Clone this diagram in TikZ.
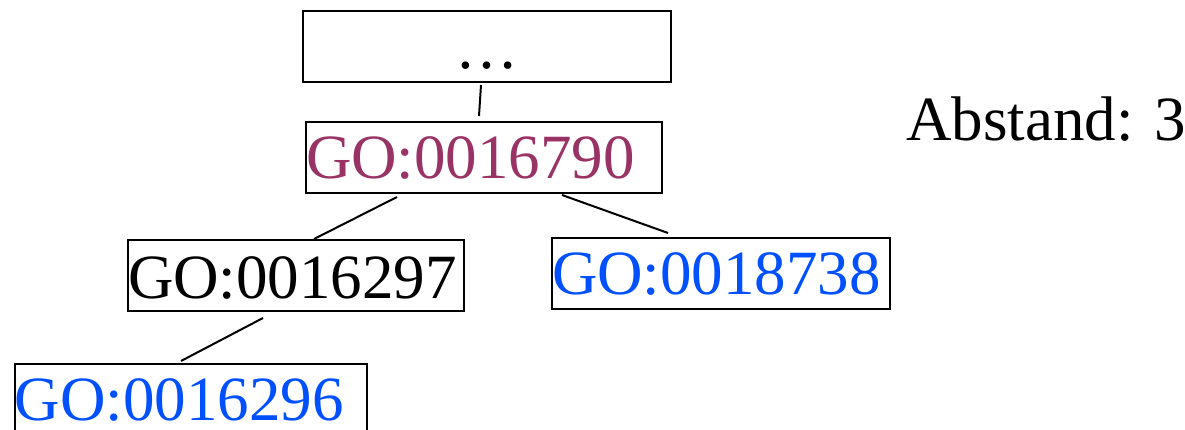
\documentclass[tikz,border=0pt]{standalone}
\usepackage{fontspec}
\setmainfont{Liberation Serif}
\usetikzlibrary{calc}
\definecolor{goPurple}{HTML}{993366}
\definecolor{goBlue}{HTML}{0050FF}
\begin{document}
\begin{tikzpicture}[x=0.5pt,y=-0.5pt,
  gobox/.style={draw=black, line width=1pt, inner sep=0pt, anchor=base west,
    font=\fontsize{31.5}{36}\selectfont, align=left},
  conn/.style={draw=black, line width=1pt}]
\useasboundingbox (0,0) rectangle (1185,429);
% boxes: text width = box width, text height/depth = top/bottom relative to baseline
\node[gobox, align=center, text width=184pt, text height=28.5pt, text depth=7pt] (top) at (302,68) {\ldots};
\node[gobox, text width=178pt, text height=28pt, text depth=7.5pt, text=goPurple] (n16790) at (305,178) {GO:0016790};
\node[gobox, text width=168pt, text height=29pt, text depth=6.5pt] (n16297) at (127,298) {GO:0016297};
\node[gobox, text width=169pt, text height=28pt, text depth=7.5pt, text=goBlue] (n18738) at (551,294) {GO:0018738};
\node[gobox, text width=176pt, text height=28pt, text depth=7.5pt, text=goBlue] (n16296) at (14,420) {GO:0016296};
\node[inner sep=0pt, anchor=base west, font=\fontsize{31.5}{36}\selectfont] (dist) at (906,140) {Abstand: 3};
% connectors
\draw[conn] ($(top.south west)+(179,2)$) -- ($(n16790.north west)+(174,-5)$);
\draw[conn] ($(n16790.south west)+(92,3)$) -- ($(n16297.north west)+(187,0)$);
\draw[conn] ($(n16790.south west)+(257,1)$) -- ($(n18738.north west)+(117,-4)$);
\draw[conn] ($(n16297.south west)+(136,6)$) -- ($(n16296.north west)+(167,-2)$);
\end{tikzpicture}
\end{document}
